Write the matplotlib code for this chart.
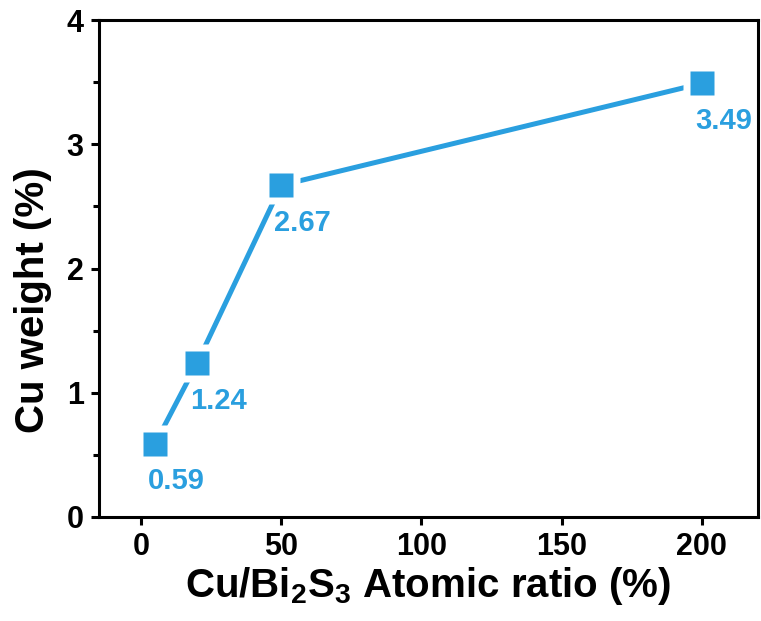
import matplotlib
matplotlib.use("Agg")
import matplotlib.pyplot as plt

ratio = [5, 20, 50, 200]
cu_weight = [0.59, 1.24, 2.67, 3.49]
labels = ["0.59", "1.24", "2.67", "3.49"]
xticks = [0, 50, 100, 150, 200]
yticks = [0, 1, 2, 3, 4]

plt.rcParams['font.family'] = ['Liberation Sans', 'DejaVu Sans']
plt.rcParams['font.weight'] = 'bold'
plt.rcParams['mathtext.fontset'] = 'custom'
plt.rcParams['mathtext.rm'] = 'Liberation Sans:bold'
plt.rcParams['mathtext.bf'] = 'Liberation Sans:bold'
plt.rcParams['mathtext.it'] = 'Liberation Sans:bold'

color = '#2a9fdf'
fig = plt.figure(figsize=(7.61, 6.21), dpi=100)
ax = fig.add_axes([99/761, 104/621, 659/761, 497/621])

ax.plot(ratio, cu_weight, color=color, lw=3.6, solid_capstyle='butt', zorder=2)
ax.plot(ratio, cu_weight, 's', ms=27, color='white', mec='none', zorder=3)
ax.plot(ratio, cu_weight, 's', ms=17.5, color=color, mec='none', zorder=4)
for x, y, t in zip(ratio, cu_weight, labels):
    ax.annotate(t, (x, y), xytext=(-5, -17), textcoords='offset points',
                ha='left', va='top', fontsize=21, fontweight='bold', color=color, zorder=5)

ax.set_xlim(-15, 220)
ax.set_ylim(0, 4)
ax.set_xticks(xticks)
ax.set_yticks(yticks)
ax.set_yticks([0.5, 1.5, 2.5, 3.5], minor=True)
ax.tick_params(axis='both', which='major', direction='out', length=6, width=2.2, labelsize=22, pad=5)
ax.tick_params(axis='y', which='minor', direction='out', length=4, width=2.2)
for lab in ax.get_xticklabels() + ax.get_yticklabels():
    lab.set_fontweight('bold')
for s in ax.spines.values():
    s.set_linewidth(2.2)

ax.set_xlabel(r'Cu/Bi$_{\mathbf{2}}$S$_{\mathbf{3}}$ Atomic ratio (%)', fontsize=29, fontweight='bold', labelpad=2)
ax.set_ylabel('Cu weight (%)', fontsize=29, fontweight='bold')
ax.yaxis.set_label_coords(-0.072, 0.437)

fig.savefig('out.png', dpi=100)
